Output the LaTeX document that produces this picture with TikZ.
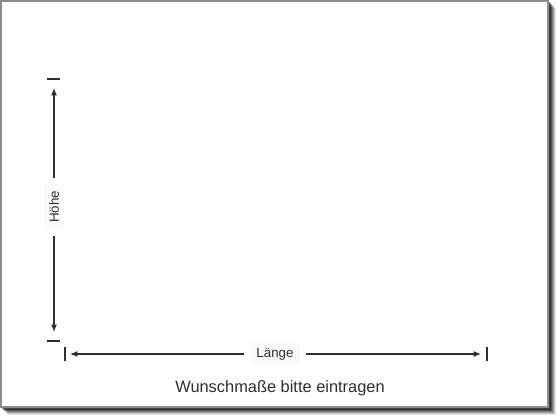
\documentclass[tikz,border=0pt]{standalone}
\usepackage{fontspec}
\setmainfont{Liberation Sans}
\usetikzlibrary{arrows.meta}
\definecolor{ink}{HTML}{2E2E2E}
\definecolor{framegray}{HTML}{8C8C8C}
\definecolor{labelbg}{HTML}{FAFAFA}
\begin{document}
\begin{tikzpicture}[x=0.75pt,y=-0.75pt,
  dim/.style={draw=ink,line width=0.9pt,-{Latex[length=5.5pt,width=4.5pt]}},
  tick/.style={draw=ink,line width=1pt},
  lbl/.style={fill=labelbg,inner xsep=5pt,inner ysep=4pt,text=ink,font=\fontsize{10}{12}\selectfont}]
\useasboundingbox (0,0) rectangle (560,420);
% shadow
\foreach \i/\o in {8/0.10,7/0.14,6/0.18,5/0.24,4/0.32,3/0.42}
  \fill[black,opacity=\o] (\i,\i) rectangle (548+\i,407+\i);
\fill[black!70,opacity=0.6] (2,2) rectangle (550,409);
% sheet
\filldraw[fill=white,draw=framegray,line width=1.4pt] (0.7,0.7) rectangle (548,407);
% vertical dimension
\coordinate (vtop) at (54,88);
\coordinate (vbot) at (54,332);
\coordinate (tt1) at (47,79); \coordinate (tt2) at (60,79);
\coordinate (tb1) at (47,341); \coordinate (tb2) at (60,341);
\node[lbl,rotate=90] (hoehe) at (54,207) {Höhe};
\draw[dim] (hoehe.east) ++(0,-6) -- (vtop);
\draw[dim] (hoehe.west) ++(0,6) -- (vbot);
\draw[tick] (tt1) -- (tt2);
\draw[tick] (tb1) -- (tb2);
% horizontal dimension
\coordinate (hl) at (70,354);
\coordinate (hr) at (481,354);
\coordinate (tl1) at (65,347); \coordinate (tl2) at (65,361);
\coordinate (tr1) at (487,347); \coordinate (tr2) at (487,361);
\node[lbl] (laenge) at (275,354) {Länge};
\draw[dim] (laenge.west) ++(-6,0) -- (hl);
\draw[dim] (laenge.east) ++(6,0) -- (hr);
\draw[tick] (tl1) -- (tl2);
\draw[tick] (tr1) -- (tr2);
% caption
\node[text=ink,font=\fontsize{12.3}{14}\selectfont] (caption) at (280,388) {Wunschmaße bitte eintragen};
\end{tikzpicture}
\end{document}
